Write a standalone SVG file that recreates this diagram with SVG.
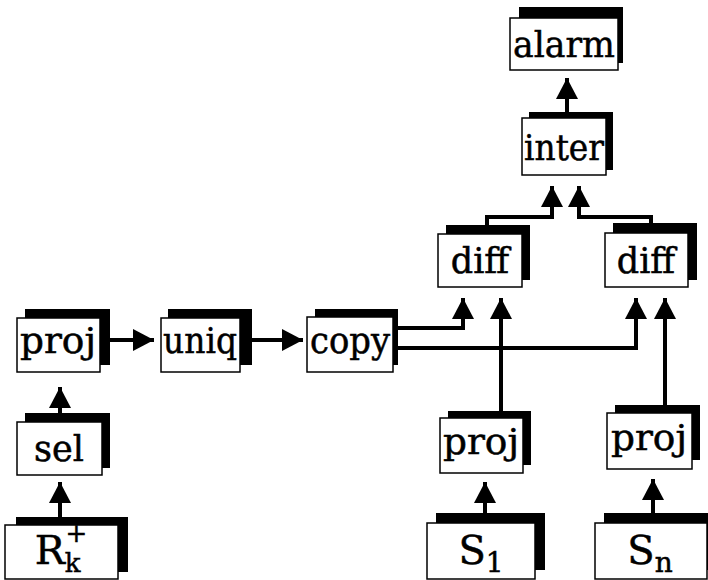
<svg xmlns="http://www.w3.org/2000/svg" width="708" height="580" viewBox="0 0 708 580">
<style>
.sh{fill:#000}
.fr{fill:#fff;stroke:#000;stroke-width:1.5}
.t{font-family:"DejaVu Serif","Liberation Serif",serif;font-size:35px;fill:#000;stroke:#000;stroke-width:0.5;text-anchor:middle}
.big{font-size:40px}
.c{fill:none;stroke:#000;stroke-width:4;stroke-linejoin:miter}
</style>
<defs>
<marker id="ah" markerUnits="userSpaceOnUse" markerWidth="24" markerHeight="24" refX="21" refY="11" orient="auto" viewBox="0 0 24 24">
<path d="M0,0 L21,11 L0,22 z" fill="#000"/>
</marker>
</defs>
<rect width="708" height="580" fill="#fff"/>
<g id="connectors">
<path class="c" d="M567,112 L567,78" marker-end="url(#ah)"/>
<path class="c" d="M487,226 L487,217 L552,217 L552,186" marker-end="url(#ah)"/>
<path class="c" d="M651,224 L651,217 L579,217 L579,186" marker-end="url(#ah)"/>
<path class="c" d="M110,340 L154,340" marker-end="url(#ah)"/>
<path class="c" d="M252,340 L303,340" marker-end="url(#ah)"/>
<path class="c" d="M398,328 L463,328 L463,298" marker-end="url(#ah)"/>
<path class="c" d="M398,348 L636,348 L636,298" marker-end="url(#ah)"/>
<path class="c" d="M501,411 L501,298" marker-end="url(#ah)"/>
<path class="c" d="M665,405 L665,298" marker-end="url(#ah)"/>
<path class="c" d="M60,414 L60,387" marker-end="url(#ah)"/>
<path class="c" d="M60,518 L60,482" marker-end="url(#ah)"/>
<path class="c" d="M485,514 L485,482" marker-end="url(#ah)"/>
<path class="c" d="M653,514 L653,479" marker-end="url(#ah)"/>
</g>
<g id="alarm"><rect class="sh" x="519" y="7" width="104" height="56"/><rect class="fr" x="510" y="18" width="108" height="52"/><text class="t" x="564" y="57" textLength="102" lengthAdjust="spacingAndGlyphs">alarm</text></g>
<g id="inter"><rect class="sh" x="529" y="112" width="84" height="58"/><rect class="fr" x="522" y="118" width="84" height="57"/><text class="t" x="564" y="160" textLength="80" lengthAdjust="spacingAndGlyphs">inter</text></g>
<g id="diff1"><rect class="sh" x="446" y="225" width="84" height="55"/><rect class="fr" x="438" y="234" width="84" height="53"/><text class="t" x="480" y="273">diff</text></g>
<g id="diff2"><rect class="sh" x="613" y="223" width="84" height="57"/><rect class="fr" x="605" y="233" width="83" height="54"/><text class="t" x="646" y="273">diff</text></g>
<g id="proj0"><rect class="sh" x="25" y="309" width="85" height="56"/><rect class="fr" x="17" y="318" width="83" height="54"/><text class="t" x="58" y="353" textLength="76" lengthAdjust="spacingAndGlyphs">proj</text></g>
<g id="uniq"><rect class="sh" x="168" y="309" width="84" height="56"/><rect class="fr" x="161" y="318" width="79" height="54"/><text class="t" x="200" y="353" textLength="74" lengthAdjust="spacingAndGlyphs">uniq</text></g>
<g id="copy"><rect class="sh" x="315" y="309" width="83" height="56"/><rect class="fr" x="307" y="317" width="86" height="55"/><text class="t" x="350" y="353" textLength="80" lengthAdjust="spacingAndGlyphs">copy</text></g>
<g id="sel"><rect class="sh" x="25" y="413" width="85" height="55"/><rect class="fr" x="17" y="422" width="85" height="53"/><text class="t" x="59" y="461">sel</text></g>
<g id="Rk"><rect class="sh" x="16" y="517" width="112" height="55"/><rect class="fr" x="5" y="525" width="113" height="54"/><text class="t big" x="61" y="564">R<tspan font-size="26" dy="8">k</tspan><tspan font-size="26" dx="-15" dy="-30">+</tspan></text></g>
<g id="proj1"><rect class="sh" x="448" y="411" width="83" height="54"/><rect class="fr" x="440" y="418" width="83" height="55"/><text class="t" x="481" y="454" textLength="76" lengthAdjust="spacingAndGlyphs">proj</text></g>
<g id="S1"><rect class="sh" x="436" y="513" width="109" height="57"/><rect class="fr" x="427" y="523" width="108" height="56"/><text class="t big" x="481" y="564">S<tspan font-size="28" dy="8">1</tspan></text></g>
<g id="proj2"><rect class="sh" x="615" y="405" width="85" height="55"/><rect class="fr" x="607" y="413" width="85" height="56"/><text class="t" x="649" y="450" textLength="76" lengthAdjust="spacingAndGlyphs">proj</text></g>
<g id="Sn"><rect class="sh" x="604" y="513" width="112" height="57"/><rect class="fr" x="595" y="523" width="112" height="56"/><text class="t big" x="650" y="564">S<tspan font-size="28" dy="8">n</tspan></text></g>
</svg>
